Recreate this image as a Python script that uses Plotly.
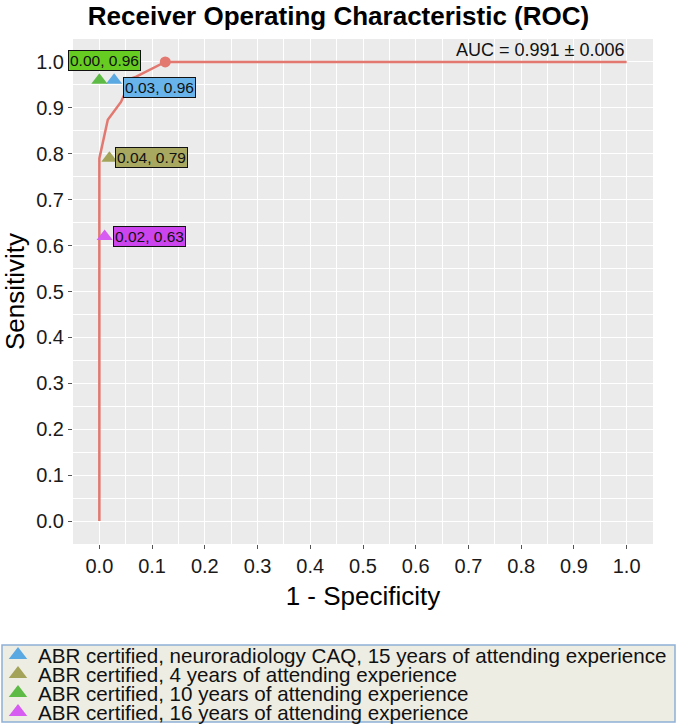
import plotly.graph_objects as go

# ROC curve
roc_fpr = [0.0, 0.0, 0.016, 0.041, 0.047, 0.049, 0.07, 0.125, 1.0]
roc_tpr = [0.0, 0.79, 0.874, 0.913, 0.928, 0.96, 0.968, 1.0, 1.0]
op_fpr = [0.125]
op_tpr = [1.0]

readers = [
    "ABR certified, neuroradiology CAQ, 15 years of attending experience",
    "ABR certified, 4 years of attending experience",
    "ABR certified, 10 years of attending experience",
    "ABR certified, 16 years of attending experience",
]
reader_fpr = [0.028, 0.019, 0.0, 0.01]
reader_tpr = [0.96, 0.79, 0.96, 0.62]
reader_labels = ["0.03, 0.96", "0.04, 0.79", "0.00, 0.96", "0.02, 0.63"]
marker_colors = ["#5BA9E3", "#A3A35A", "#5DBB45", "#D65CF2"]
label_colors = ["#68B4EA", "#A8A860", "#66CC22", "#CC44EE"]
label_shift = [(9, -7), (6, 1), (-31, 20), (8, 0)]

auc_text = "AUC = 0.991 ± 0.006"

FONT = "Liberation Sans, Arial, sans-serif"
W, H = 677, 724
ML, MR, MT, MB = 73, 24, 39, 180
PW, PH = W - ML - MR, H - MT - MB

def px_to_paper_x(px):
    return (px - ML) / PW

def px_to_paper_y(py):
    return (H - MB - py) / PH

fig = go.Figure()
fig.add_trace(go.Scatter(x=roc_fpr, y=roc_tpr, mode="lines",
                         line=dict(color="#E2786F", width=2.5),
                         showlegend=False, hoverinfo="skip"))
fig.add_trace(go.Scatter(x=op_fpr, y=op_tpr, mode="markers",
                         marker=dict(color="#E2786F", size=11, symbol="circle"),
                         showlegend=False))

legend_rows = [655, 674, 693, 712]
legend_layout = {}
for i, name in enumerate(readers):
    lg = "legend" if i == 0 else f"legend{i + 1}"
    fig.add_trace(go.Scatter(x=[reader_fpr[i]], y=[reader_tpr[i]], mode="markers",
                             name=name, showlegend=False,
                             marker=dict(symbol="triangle-up", size=14,
                                         color=marker_colors[i])))
    fig.add_trace(go.Scatter(x=[None], y=[None], mode="markers", name=name,
                             legend=lg, showlegend=True,
                             marker=dict(symbol="triangle-up", size=18,
                                         color=marker_colors[i])))
    legend_layout[lg] = dict(xref="paper", yref="paper",
                             x=px_to_paper_x(-2), y=px_to_paper_y(legend_rows[i]),
                             xanchor="left", yanchor="middle",
                             bgcolor="rgba(0,0,0,0)", borderwidth=0,
                             itemsizing="trace",
                             font=dict(family=FONT, size=20.6, color="#111111"),
                             itemwidth=30)
    fig.add_annotation(x=reader_fpr[i], y=reader_tpr[i], text=reader_labels[i],
                       showarrow=False, xanchor="left", yanchor="middle",
                       xshift=label_shift[i][0], yshift=label_shift[i][1],
                       bgcolor=label_colors[i], bordercolor="#111111", borderwidth=1,
                       borderpad=1, font=dict(family=FONT, size=15.5, color="#111111"))

# legend frame
fig.add_shape(type="rect", xref="paper", yref="paper", layer="below",
              x0=px_to_paper_x(2), x1=px_to_paper_x(675),
              y0=px_to_paper_y(722), y1=px_to_paper_y(645),
              fillcolor="#EEEDE3", line=dict(color="#8FB0D6", width=1.5))

fig.add_annotation(x=1.0, y=1.0, text=auc_text, showarrow=False,
                   xanchor="right", yanchor="bottom", yshift=0,
                   font=dict(family=FONT, size=18, color="#111111"))

axis_common = dict(
    range=[-0.05, 1.05], tickmode="linear", tick0=0, dtick=0.1, tickformat=".1f",
    showgrid=True, gridcolor="white", gridwidth=1.3,
    zeroline=False, showline=False,
    ticks="outside", ticklen=4, tickcolor="#555555", tickwidth=1,
    tickfont=dict(family=FONT, size=20, color="#1A1A1A"),
    minor=dict(tick0=0.05, dtick=0.1, showgrid=True, gridcolor="white",
               gridwidth=0.6, ticks=""),
)

fig.update_layout(
    width=W, height=H,
    margin=dict(l=ML, r=MR, t=MT, b=MB, autoexpand=False),
    paper_bgcolor="white", plot_bgcolor="#EBEBEB",
    title=dict(text="<b>Receiver Operating Characteristic (ROC)</b>",
               x=0.5, xanchor="center", y=1 - 16 / H, yanchor="middle",
               yref="container",
               font=dict(family=FONT, size=26, color="#000000")),
    xaxis=dict(title=dict(text="1 - Specificity", standoff=10,
                          font=dict(family=FONT, size=26, color="#000000")),
               **axis_common),
    yaxis=dict(title=dict(text="Sensitivity", standoff=6,
                          font=dict(family=FONT, size=26, color="#000000")),
               **axis_common),
    **legend_layout,
)

fig.write_html("out.html", config={"displayModeBar": False},
               post_script="document.body.style.margin='0';document.body.style.padding='0';")
